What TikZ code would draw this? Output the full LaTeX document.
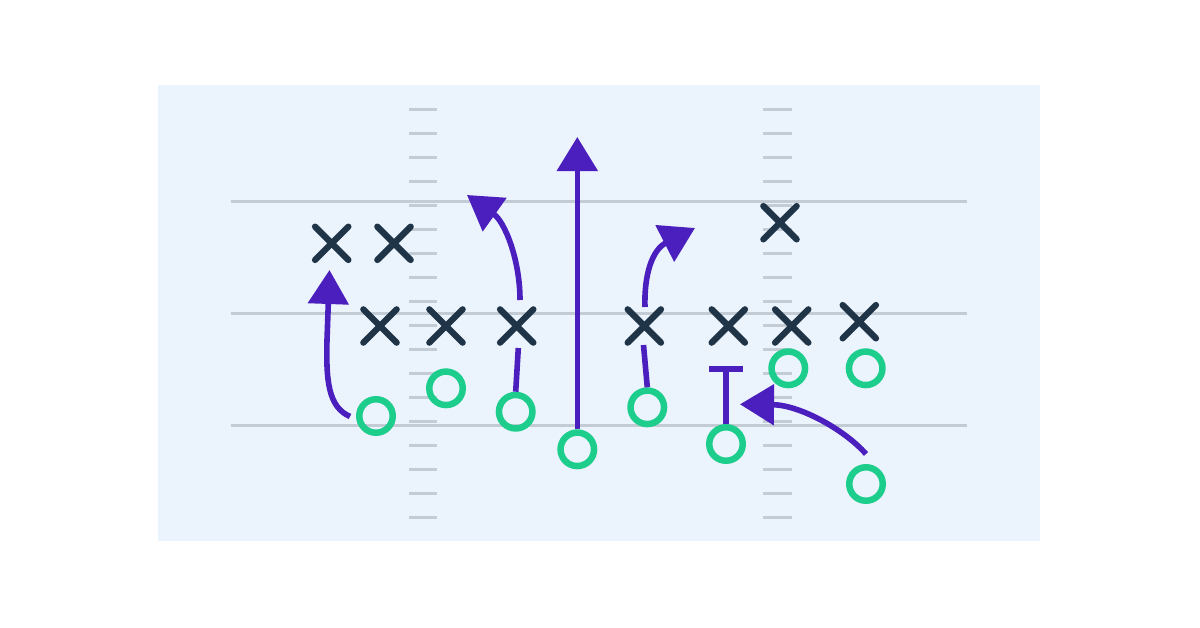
\documentclass[tikz,border=0pt]{standalone}
\usetikzlibrary{arrows.meta,shapes.misc}
\definecolor{panelbg}{RGB}{235,243,253}
\definecolor{fieldgray}{RGB}{195,203,213}
\definecolor{routepurple}{RGB}{75,30,190}
\definecolor{offgreen}{RGB}{28,205,140}
\definecolor{defnavy}{RGB}{31,52,70}
\tikzset{
  yardline/.style={draw=fieldgray, line width=2.8pt},
  hashmark/.style={draw=fieldgray, line width=3.2pt},
  offp/.style={circle, draw=offgreen, line width=6.5pt, minimum size=33.5pt, inner sep=0pt},
  defp/.style={cross out, draw=defnavy, line width=6.3pt, minimum size=27pt, inner sep=0pt, line cap=round},
  route/.style={draw=routepurple, line width=5.6pt},
  routearrow/.style={route, -{Triangle[width=40pt,length=34pt]}},
}
\begin{document}
\begin{tikzpicture}[x=1pt,y=-1pt]
\useasboundingbox (0,0) rectangle (1200,627);
\fill[white] (0,0) rectangle (1200,627);
\fill[panelbg] (158,85) rectangle (1040,541);
% yard lines
\foreach \yy in {201.3,313.3,425.7} \draw[yardline] (231,\yy) -- (967,\yy);
% hash marks
\foreach \k in {0,...,17} {
  \draw[hashmark] (409,109.3+24*\k) -- (437,109.3+24*\k);
  \draw[hashmark] (763,109.3+24*\k) -- (791.5,109.3+24*\k);
}
% players: offense (circles)
\node[offp] (c1) at (376,416) {};
\node[offp] (c2) at (446,388.3) {};
\node[offp] (c3) at (515.7,411.7) {};
\node[offp] (c4) at (577.3,449.3) {};
\node[offp] (c5) at (647.3,407.3) {};
\node[offp] (c6) at (726,444) {};
\node[offp] (c7) at (788.3,368.3) {};
\node[offp] (c8) at (865.7,368.3) {};
\node[offp] (c9) at (866,484) {};
% players: defense (crosses)
\node[defp] (x1) at (331.7,243.3) {};
\node[defp] (x2) at (394,243.3) {};
\node[defp] (x3) at (380,326) {};
\node[defp] (x4) at (446,326) {};
\node[defp] (x5) at (516.7,326) {};
\node[defp] (x6) at (644.3,326) {};
\node[defp] (x7) at (728.3,326) {};
\node[defp] (x8) at (791.7,326) {};
\node[defp] (x9) at (859.3,321.7) {};
\node[defp] (x10) at (780,222.7) {};
% route coordinates
\coordinate (r1s) at (350,416.5);
\coordinate (r1t) at (329.5,270);
\coordinate (r2a) at (518.3,348);
\coordinate (r2b) at (520,300);
\coordinate (r2t) at (467,195);
\coordinate (r3t) at (577.3,137);
\coordinate (r4a) at (643.5,345);
\coordinate (r4b) at (645,307);
\coordinate (r4t) at (695,228);
\coordinate (t6) at (726,369);
\coordinate (r9s) at (866,454);
\coordinate (r9t) at (740,404.3);
% routes
\draw[routearrow] (r1s) .. controls (328,407) and (326,380) .. (327,340) -- (r1t);
\draw[route] (c3.north) -- (r2a);
\draw[routearrow] (r2b) .. controls (520,260) and (505,222) .. (r2t);
\draw[routearrow] (c4.north) -- (r3t);
\draw[route] (c5.north) -- (r4a);
\draw[routearrow] (r4b) .. controls (644,275) and (652,250) .. (r4t);
\draw[route] (c6.north) -- (t6);
\draw[route] ([xshift=-17pt]t6) -- ([xshift=17pt]t6);
\draw[routearrow] (r9s) .. controls (845,430) and (800,405) .. (r9t);
\end{tikzpicture}
\end{document}
